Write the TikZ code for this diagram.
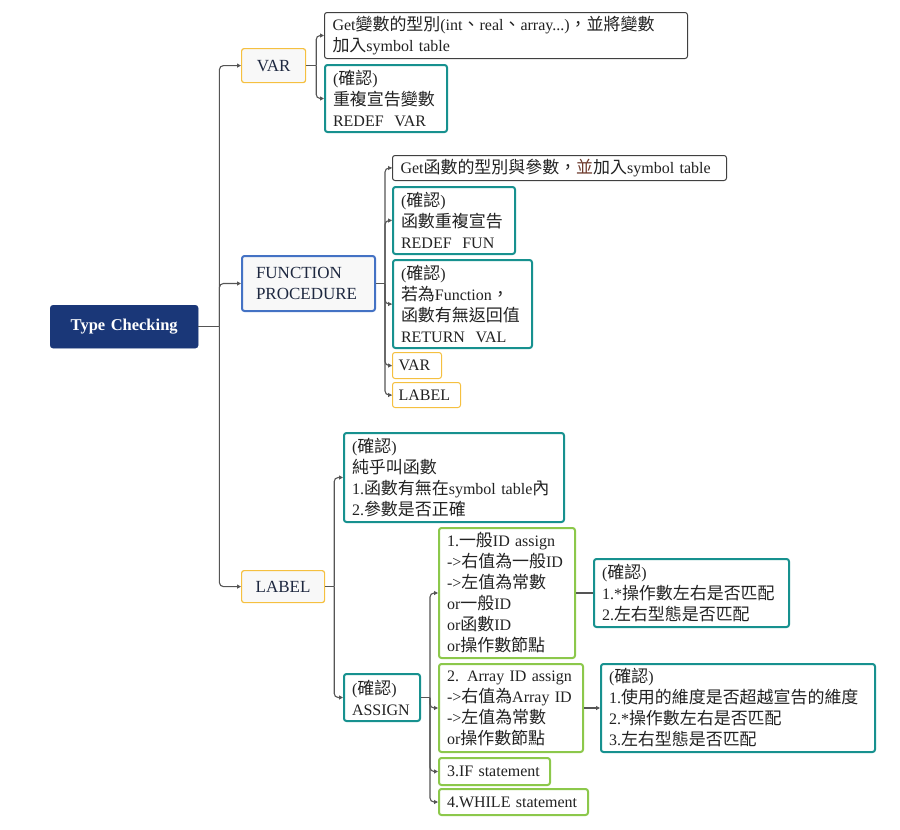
\documentclass[tikz,border=0pt]{standalone}
\usepackage{fontspec}
\setmainfont{Liberation Serif}
\newfontfamily\cjk[Scale=1.06]{Noto Sans CJK TC}
\usetikzlibrary{arrows.meta}
\newcommand\zh[1]{{\cjk #1}}
\definecolor{rootfill}{HTML}{1A3778}
\definecolor{checkc}{HTML}{17918F}
\definecolor{greenc}{HTML}{8CC84B}
\definecolor{yellowc}{HTML}{F5C040}
\definecolor{bluec}{HTML}{4472C4}
\definecolor{panel}{HTML}{F8F8F8}
\definecolor{txt}{HTML}{222222}
\definecolor{headtxt}{HTML}{1E2840}
\definecolor{linec}{HTML}{555555}
\definecolor{markc}{HTML}{6E3A2C}
\tikzset{
  sz/.code 2 args={\pgfmathsetmacro\boxtw{#1-16}%
    \edef\tmpset{\noexpand\tikzset{text width=\boxtw pt, minimum height=#2pt}}\tmpset},
  base/.style={anchor=north west, rounded corners=2.5, inner xsep=8, inner ysep=0,
    align=left, font=\fontsize{16}{21}\selectfont, text=txt},
  plainbox/.style={base, draw=black!75, line width=1, fill=white},
  checkbox/.style={base, draw=checkc, line width=2, fill=white},
  greenbox/.style={base, draw=greenc, line width=2, fill=white},
  smallbox/.style={base, draw=yellowc, line width=1, fill=white},
  headbox/.style={base, fill=panel, align=center, text=headtxt,
    font=\fontsize{17}{21}\selectfont},
  rootbox/.style={base, fill=rootfill, draw=rootfill, rounded corners=3, align=center,
    text=white, font=\fontsize{16.5}{21}\selectfont\bfseries},
  link/.style={draw=linec, line width=1.1},
  conn/.style={link, rounded corners=4, -{Triangle[length=4pt,width=4pt]}},
}
\begin{document}
\begin{tikzpicture}[x=1pt,y=-1pt]
\useasboundingbox (0,0) rectangle (900,830);

% root
\node[rootbox, sz={148}{43}] (root) at (50,305) {Type Checking};

% first level
\node[headbox, draw=yellowc, line width=1.2, sz={64}{34}] (var) at (241,48) {VAR};
\node[headbox, draw=bluec, line width=2, align=left, inner xsep=14, text width=105,
      minimum height=55] (fun) at (241,255) {FUNCTION\\PROCEDURE};
\node[headbox, draw=yellowc, line width=1.2, sz={83}{32}] (lab) at (241,570) {LABEL};

% VAR children
\node[plainbox, sz={363}{46}] (v1) at (324,12)
  {Get\zh{變數的型別}(int\zh{、}real\zh{、}array...)\zh{，並將變數}\\\zh{加入}symbol table};
\node[checkbox, sz={122}{67}] (v2) at (324,64)
  {(\zh{確認})\\\zh{重複宣告變數}\\REDEF\ \ VAR};

% FUNCTION / PROCEDURE children
\node[plainbox, sz={334}{25}] (f1) at (392,155)
  {Get\zh{函數的型別與參數，}\textcolor{markc}{\zh{並}}\zh{加入}symbol table};
\node[checkbox, sz={122}{67}] (f2) at (392,186)
  {(\zh{確認})\\\zh{函數重複宣告}\\REDEF\ \ FUN};
\node[checkbox, sz={139}{88}] (f3) at (392,259)
  {(\zh{確認})\\\zh{若為}Function\zh{，}\\\zh{函數有無返回值}\\RETURN\ \ VAL};
\node[smallbox, inner xsep=6, text width=37, minimum height=26] (f4) at (392,352) {VAR};
\node[smallbox, inner xsep=6, text width=56, minimum height=25] (f5) at (392,382) {LABEL};

% LABEL children
\node[checkbox, sz={220}{89}] (l1) at (343,432)
  {(\zh{確認})\\\zh{純乎叫函數}\\1.\zh{函數有無在}symbol table\zh{內}\\2.\zh{參數是否正確}};
\node[checkbox, sz={76}{47}] (asg) at (343,673) {(\zh{確認})\\ASSIGN};

% ASSIGN children
\node[greenbox, sz={136}{130}] (g1) at (438,527)
  {1.\zh{一般}ID assign\\->\zh{右值為一般}ID\\->\zh{左值為常數}\\or\zh{一般}ID\\or\zh{函數}ID\\or\zh{操作數節點}};
\node[greenbox, sz={144}{88}] (g2) at (438,663)
  {2. Array ID assign\\->\zh{右值為}Array ID\\->\zh{左值為常數}\\or\zh{操作數節點}};
\node[greenbox, sz={111}{27}] (g3) at (438,757) {3.IF statement};
\node[greenbox, sz={149}{26}] (g4) at (438,788) {4.WHILE statement};

% checks attached to the assignment kinds
\node[checkbox, sz={195}{68}] (h1) at (593,558)
  {(\zh{確認})\\1.*\zh{操作數左右是否匹配}\\2.\zh{左右型態是否匹配}};
\node[checkbox, sz={274}{88}] (h2) at (600,663)
  {(\zh{確認})\\1.\zh{使用的維度是否超越宣告的維度}\\2.*\zh{操作數左右是否匹配}\\3.\zh{左右型態是否匹配}};

% junction points of the tree
\coordinate (j0) at ([xshift=21]root.east);
\coordinate (jv) at ([xshift=10]var.east);
\coordinate (jf) at ([xshift=9]fun.east);
\coordinate (jl) at ([xshift=9]lab.east);
\coordinate (ja) at ([xshift=9]asg.east);

% connectors
\draw[link] (root.east) -- (j0);
\foreach \c in {var,fun,lab} \draw[conn] (j0) |- (\c.west);

\draw[link] (var.east) -- (jv);
\foreach \c in {v1,v2} \draw[conn] (jv) |- (\c.west);

\draw[link] (fun.east) -- (jf);
\foreach \c in {f1,f2,f3,f4,f5} \draw[conn] (jf) |- (\c.west);

\draw[link] (lab.east) -- (jl);
\foreach \c in {l1,asg} \draw[conn] (jl) |- (\c.west);

\draw[link] (asg.east) -- (ja);
\foreach \c in {g1,g2,g3,g4} \draw[conn] (ja) |- (\c.west);

\draw[link] (g1.east) -- (h1.west);
\draw[conn] (g2.east) -- (h2.west);
\end{tikzpicture}
\end{document}
